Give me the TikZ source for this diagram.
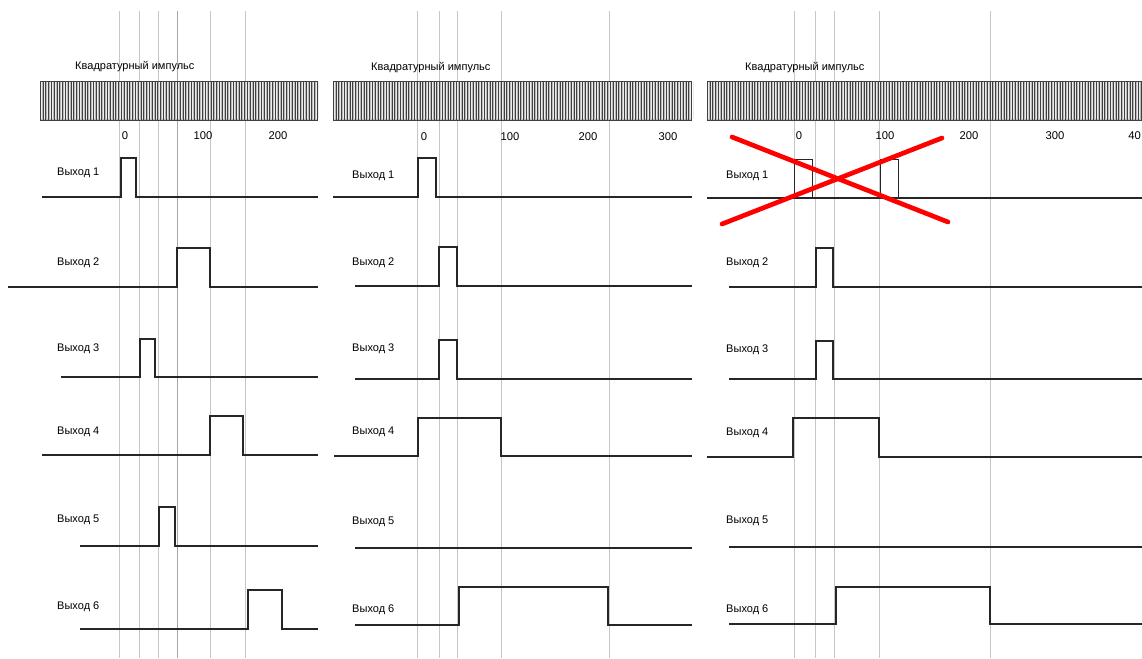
\documentclass[tikz,border=0pt]{standalone}
\usepackage{fontspec}
\setmainfont{Liberation Sans}

\begin{document}
\begin{tikzpicture}[x=0.3mm, y=-0.3mm,
  gridln/.style={gray!45, line width=0.7pt},
  signal/.style={black!85, line width=1.45pt},
  thinsig/.style={black!85, line width=0.8pt},
  band/.style={fill=gray!55},
  stripe/.style={black!75, line width=0.45pt},
  gap/.style={white!85!gray, line width=0.3pt},
  lbl/.style={anchor=west, inner sep=0pt, font=\fontsize{9.4}{11}\selectfont},
  tick/.style={inner sep=0pt, font=\fontsize{9.6}{11}\selectfont},
  cross/.style={red, line width=4pt, line cap=round}
]
\useasboundingbox (0,0) rectangle (1142,658);
\clip (0,0) rectangle (1142,658);

% --- panel 1 ---
\foreach \x in {119,139,158,210,245}
  \draw[gridln] (\x,11) -- (\x,658);
\draw[gray!70, line width=0.7pt] (177,11) -- (177,658);
\node[lbl] (t1) at (75,67) {Квадратурный импульс};
\fill[band] (40,81) rectangle (318,120);
\foreach \x in {40,42.8,...,318} {
  \draw[stripe] (\x,81) -- (\x,120);
  \draw[gap] (\x+1.4,82) -- (\x+1.4,119);
}
\draw[stripe] (40,81) -- (318,81) (40,120) -- (318,120);
\node[tick] (n10) at (125,136) {0};
\node[tick] (n11) at (203,136) {100};
\node[tick] (n12) at (278,136) {200};
\foreach \n/\y in {1/173,2/263,3/349,4/432,5/520,6/607}
  \node[lbl] (a\n) at (57,\y) {Выход \n};
\draw[signal] (42,197) -- (121,197) |- (136,158) |- (318,197);
\draw[signal] (8,287) -- (177,287) |- (210,248) |- (318,287);
\draw[signal] (61,377) -- (140,377) |- (155,339) |- (318,377);
\draw[signal] (42,455) -- (210,455) |- (243,416) |- (318,455);
\draw[signal] (80,546) -- (159,546) |- (175,507) |- (318,546);
\draw[signal] (80,629) -- (248,629) |- (282,590) |- (318,629);

% --- panel 2 ---
\foreach \x in {417,439,457,501,609}
  \draw[gridln] (\x,11) -- (\x,658);
\node[lbl] (t2) at (371,68) {Квадратурный импульс};
\fill[band] (333,81) rectangle (692,120);
\foreach \x in {333,335.8,...,692} {
  \draw[stripe] (\x,81) -- (\x,120);
  \draw[gap] (\x+1.4,82) -- (\x+1.4,119);
}
\draw[stripe] (333,81) -- (692,81) (333,120) -- (692,120);
\node[tick] (n20) at (424,137) {0};
\node[tick] (n21) at (510,137) {100};
\node[tick] (n22) at (588,137) {200};
\node[tick] (n23) at (668,137) {300};
\foreach \n/\y in {1/176,2/263,3/349,4/432,5/522,6/610}
  \node[lbl] (b\n) at (352,\y) {Выход \n};
\draw[signal] (333,197) -- (418,197) |- (436,158) |- (692,197);
\draw[signal] (355,286) -- (439,286) |- (457,247) |- (692,286);
\draw[signal] (355,379) -- (439,379) |- (457,340) |- (692,379);
\draw[signal] (334,456) -- (418,456) |- (501,418) |- (692,456);
\draw[signal] (355,548) -- (692,548);
\draw[signal] (355,625) -- (459,625) |- (608,587) |- (692,625);

% --- panel 3 ---
\foreach \x in {794,815,834,879,990}
  \draw[gridln] (\x,11) -- (\x,658);
\node[lbl] (t3) at (745,68) {Квадратурный импульс};
\fill[band] (707,81) rectangle (1142,120);
\foreach \x in {707,709.8,...,1142} {
  \draw[stripe] (\x,81) -- (\x,120);
  \draw[gap] (\x+1.4,82) -- (\x+1.4,119);
}
\draw[stripe] (707,81) -- (1142,81) (707,120) -- (1142,120);
\node[tick] (n30) at (799,136) {0};
\node[tick] (n31) at (885,136) {100};
\node[tick] (n32) at (969,136) {200};
\node[tick] (n33) at (1055,136) {300};
\node[tick, anchor=east] (n34) at (1141,136) {40};
\foreach \n/\y in {1/176,2/263,3/350,4/433,5/521,6/610}
  \node[lbl] (c\n) at (726,\y) {Выход \n};
\draw[signal] (707,198) -- (1142,198);
\draw[thinsig] (794,198) rectangle (812,159);
\draw[thinsig] (880,198) rectangle (898,159);
\draw[signal] (729,287) -- (816,287) |- (833,248) |- (1142,287);
\draw[signal] (729,379) -- (816,379) |- (833,341) |- (1142,379);
\draw[signal] (707,457) -- (793,457) |- (879,418) |- (1142,457);
\draw[signal] (729,547) -- (1142,547);
\draw[signal] (729,624) -- (836,624) |- (990,587) |- (1142,624);
\draw[cross] (732,137) -- (948,222);
\draw[cross] (722,224) -- (942,138);
\end{tikzpicture}
\end{document}
